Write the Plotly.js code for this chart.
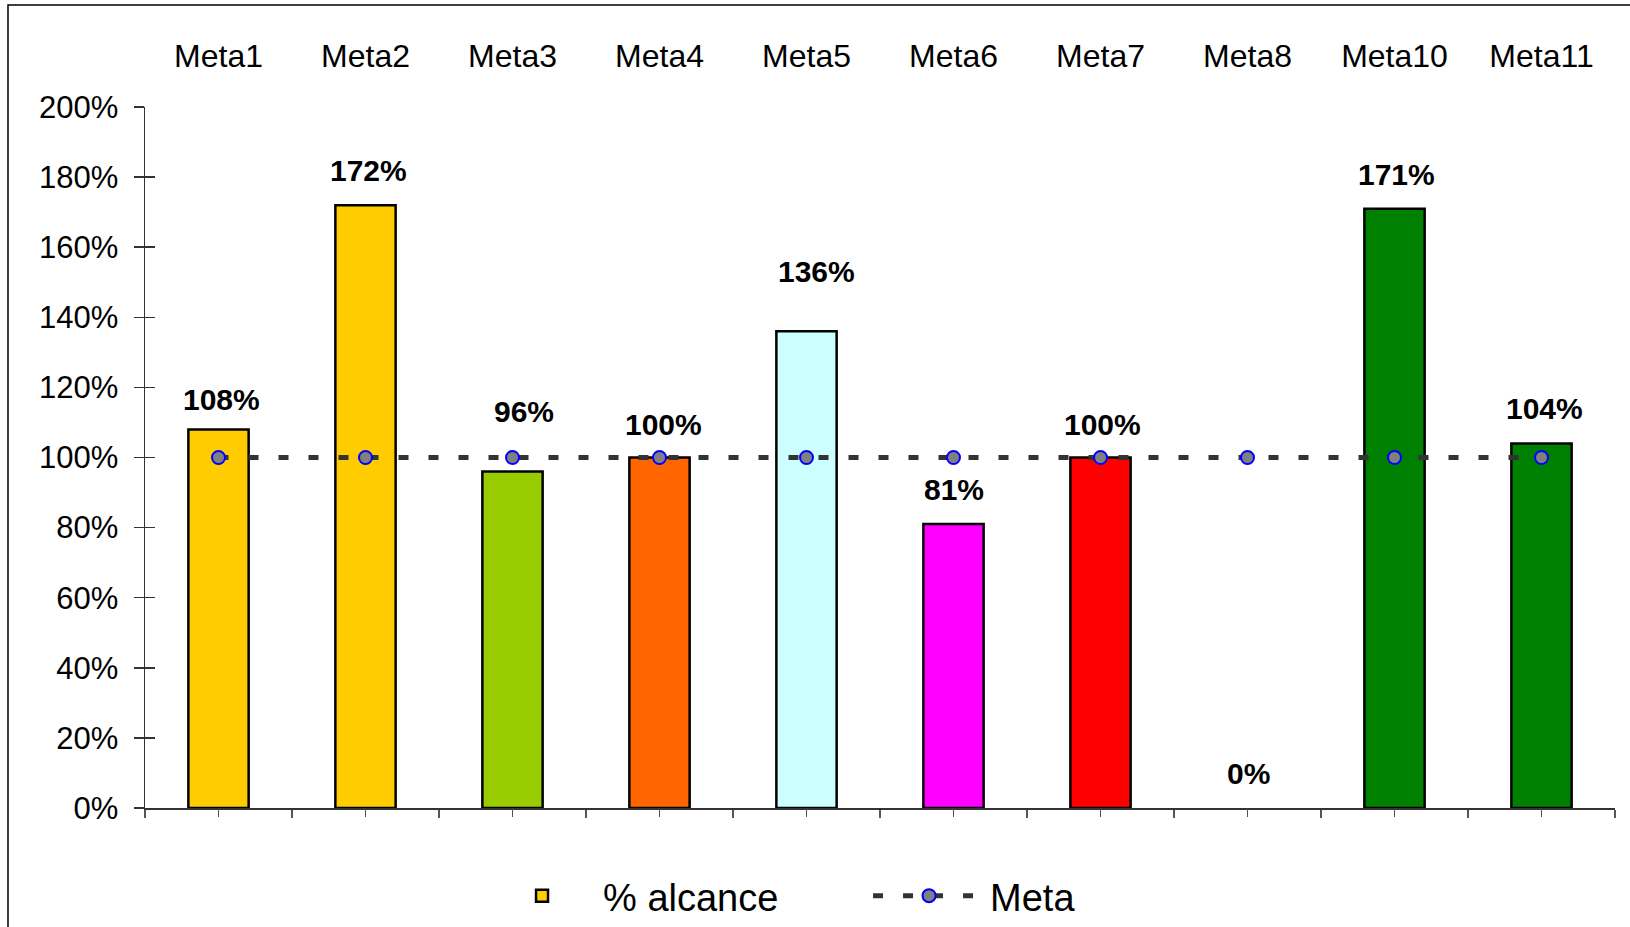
<!DOCTYPE html>
<html>
<head>
<meta charset="utf-8">
<script src="https://cdn.plot.ly/plotly-3.0.1.min.js"></script>
<style>
  html, body { margin: 0; padding: 0; background: #fff; }
  #chart { width: 1630px; height: 927px; }
</style>
</head>
<body>
<div id="chart"></div>
<script>
// ---- data ----
const categories = ['Meta1','Meta2','Meta3','Meta4','Meta5','Meta6','Meta7','Meta8','Meta10','Meta11'];
const alcance = [1.08, 1.72, 0.96, 1.00, 1.36, 0.81, 1.00, 0.00, 1.71, 1.04];
const meta = [1, 1, 1, 1, 1, 1, 1, 1, 1, 1];
const barColors = ['#FFCC00','#FFCC00','#99CC00','#FF6600','#CCFFFF','#FF00FF','#FF0000','#FFFFFF','#008000','#008000'];
const yTickVals = [0, 0.2, 0.4, 0.6, 0.8, 1.0, 1.2, 1.4, 1.6, 1.8, 2.0];

// ---- label offsets (style only) ----
const labelYShift = [30, 35, 60, 33, 60, 35, 33, 35, 34, 35];
const labelXShift = [3, 3, 11, 4, 10, 0, 2, 1, 2, 3];

const FONT = 'Liberation Sans, Arial, sans-serif';

const traces = [
  {
    type: 'bar', name: '% alcance',
    x: categories, y: alcance,
    xaxis: 'x', yaxis: 'y',
    width: 0.41,
    marker: { color: barColors, line: { color: '#000000', width: alcance.map(v => v > 0 ? 2.5 : 0) } },
    hoverinfo: 'x+y'
  },
  {
    type: 'scatter', mode: 'lines+markers', name: 'Meta',
    x: categories, y: meta,
    xaxis: 'x2', yaxis: 'y2',
    line: { color: '#333333', width: 5, dash: '10px,20px' },
    marker: { symbol: 'circle', size: 13, color: '#808080', line: { color: '#0000FF', width: 2 } }
  },
  {
    type: 'scatter', mode: 'none', showlegend: false, hoverinfo: 'skip',
    x: categories, y: meta,
    xaxis: 'x3', yaxis: 'y'
  }
];

const annotations = categories.map((c, i) => ({
  x: c, y: alcance[i], xref: 'x', yref: 'y',
  text: Math.round(alcance[i] * 100) + '%',
  showarrow: false,
  yshift: labelYShift[i], xshift: labelXShift[i],
  font: { family: FONT, size: 30, color: '#000000', weight: 'bold' },
  xanchor: 'center', yanchor: 'middle'
}));

const catRange = [-0.5, categories.length - 0.5];

const layout = {
  width: 1630, height: 927,
  margin: { l: 145, r: 15, t: 107, b: 119, autoexpand: false },
  paper_bgcolor: '#ffffff', plot_bgcolor: '#ffffff',
  font: { family: FONT, size: 30, color: '#000000' },
  showlegend: true,
  legend: {
    orientation: 'h', x: 0.2286, xanchor: 'left', y: -0.1255, yanchor: 'middle',
    font: { family: FONT, size: 38, color: '#000000' },
    itemwidth: 112, entrywidth: 260, entrywidthmode: 'pixels', bgcolor: 'rgba(0,0,0,0)'
  },
  xaxis: {
    type: 'category', categoryarray: categories, range: catRange,
    showticklabels: false, ticks: 'outside', tickson: 'boundaries', ticklen: 8,
    tickcolor: '#555555', tickwidth: 1.5,
    showline: true, linecolor: '#333333', linewidth: 1.5,
    showgrid: false, zeroline: false, fixedrange: true
  },
  xaxis2: {
    type: 'category', categoryarray: categories, range: catRange,
    overlaying: 'x', anchor: 'y', side: 'bottom',
    showticklabels: false, ticks: 'outside', ticklen: 8, tickcolor: '#555555', tickwidth: 1.5,
    showline: false, showgrid: false, zeroline: false, fixedrange: true
  },
  xaxis3: {
    type: 'category', categoryarray: categories, range: catRange,
    overlaying: 'x', anchor: 'y', side: 'top',
    ticks: '', showticklabels: true, ticklabelstandoff: 33,
    tickfont: { family: FONT, size: 32, color: '#000000' },
    showline: false, showgrid: false, zeroline: false, fixedrange: true
  },
  yaxis: {
    range: [0, 2], tickmode: 'array', tickvals: yTickVals, tickformat: '.0%',
    ticks: 'outside', ticklen: 10, tickcolor: '#333333', tickwidth: 1.5,
    ticklabelstandoff: 9,
    tickfont: { family: FONT, size: 31, color: '#000000' },
    showline: true, linecolor: '#333333', linewidth: 1.5,
    showgrid: false, zeroline: false, fixedrange: true
  },
  yaxis2: {
    range: [0, 2], tickmode: 'array', tickvals: yTickVals,
    overlaying: 'y', anchor: 'x', side: 'left',
    ticks: 'inside', ticklen: 10, tickcolor: '#333333', tickwidth: 1.5,
    showticklabels: false, showline: false, showgrid: false, zeroline: false, fixedrange: true
  },
  annotations: annotations,
  shapes: [
    { type: 'rect', xref: 'paper', yref: 'paper',
      x0: -0.0932, x1: 1.05, y0: -0.2, y1: 1.1455,
      line: { color: '#000000', width: 1.5 }, fillcolor: 'rgba(0,0,0,0)', layer: 'below' }
  ]
};

Plotly.newPlot('chart', traces, layout, { displayModeBar: false, staticPlot: true });
</script>
</body>
</html>
